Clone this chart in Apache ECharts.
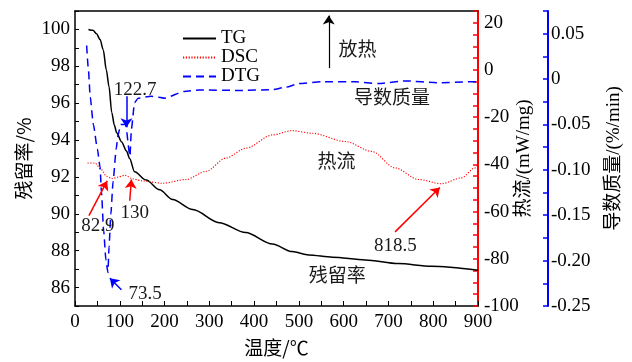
<!DOCTYPE html>
<html>
<head>
<meta charset="utf-8">
<script src="https://cdn.jsdelivr.net/npm/echarts@6/dist/echarts.min.js"></script>
<style>
  html, body { margin: 0; padding: 0; background: #fff; }
  #chart { width: 632px; height: 362px; }
</style>
</head>
<body>
<div id="chart"></div>
<script>
// Thermal analysis curves: temperature (°C) against residual mass, heat flow and mass derivative
const tgTemp = [30, 40, 48, 56, 63, 70, 76, 82, 88, 93, 104, 115, 122, 133, 159, 189, 218, 263, 322, 381, 441, 485, 522, 575, 648, 722, 796, 900];
const tgVal  = [100, 99.95, 99.77, 99.45, 98.9, 97.8, 96.9, 95.5, 94.8, 94.4, 93.9, 93.4, 93.0, 92.28, 91.83, 91.3, 90.77, 90.23, 89.52, 88.98, 88.36, 87.95, 87.77, 87.65, 87.5, 87.3, 87.15, 86.94];

const dscTemp = [28, 44, 59, 70, 82.9, 96, 111, 130, 150, 196, 248, 293, 337, 382, 441, 485, 530, 604, 663, 715, 767, 818.5, 863, 893, 900];
const dscVal  = [-39.4, -39.4, -42.2, -45, -46, -45.4, -44.6, -46.2, -47, -48, -46.4, -42.9, -37.3, -33.1, -27.5, -25.7, -26.8, -30.3, -34.5, -41.5, -46.4, -48.2, -45.7, -41.5, -40];

const dtgTemp = [26, 30, 34, 41, 50, 56, 59, 64, 69, 73.5, 76, 80, 85, 92, 96, 102, 113, 122.7, 126, 133, 141, 170, 200, 244, 278, 367, 441, 470, 500, 552, 626, 678, 737, 811, 878, 900];
const dtgVal  = [0.037, 0.01, -0.02, -0.05, -0.077, -0.097, -0.124, -0.167, -0.199, -0.213, -0.185, -0.149, -0.113, -0.077, -0.062, -0.05, -0.05, -0.085, -0.055, -0.026, -0.021, -0.019, -0.021, -0.0136, -0.012, -0.0125, -0.0117, -0.009, -0.005, -0.003, -0.003, -0.005, -0.002, -0.004, -0.003, -0.003];

// Tick labels shown on each axis
const tempTicks = [0, 100, 200, 300, 400, 500, 600, 700, 800, 900];
const tgTicks   = [86, 88, 90, 92, 94, 96, 98, 100];
const dscTicks  = [-100, -80, -60, -40, -20, 0, 20];
const dtgTicks  = [-0.25, -0.2, -0.15, -0.1, -0.05, 0, 0.05];

const SERIF = '"Liberation Serif", "Noto Sans CJK SC", serif';
const CJK = '"Noto Sans CJK SC", sans-serif';
const FS = 19;

const pairs = (xs, ys) => xs.map((x, i) => [x, ys[i]]);
const inTicks = (list, v) => list.some(t => Math.abs(t - v) < 1e-9);

const numLabel = { fontFamily: SERIF, fontSize: FS, color: '#000' };
const noteLabel = (text, coord, family) => ({
  name: text, coord: coord,
  label: { show: true, position: 'inside', formatter: '{b}', fontFamily: family, fontSize: FS, color: '#1a1a1a' }
});
const arrow = (from, to) => [{ coord: from }, { coord: to }];
const hiddenPoint = { silent: true, symbol: 'rect', symbolSize: 1, itemStyle: { color: 'rgba(0,0,0,0)' } };

const chart = echarts.init(document.getElementById('chart'));
chart.setOption({
  animation: false,
  backgroundColor: '#fff',
  grid: { left: 75, right: 152, top: 11, bottom: 52 },
  legend: {
    left: 177, top: 24, orient: 'vertical',
    itemWidth: 33, itemHeight: 2, itemGap: 0,
    itemStyle: { opacity: 0 },
    textStyle: { fontFamily: SERIF, fontSize: FS, color: '#000' },
    data: ['TG', 'DSC', 'DTG']
  },
  xAxis: [{
    type: 'value', min: 0, max: 900, interval: 100, position: 'bottom',
    name: '温度/℃', nameLocation: 'middle', nameGap: 32, nameMoveOverlap: false,
    nameTextStyle: { fontFamily: CJK, fontSize: FS, color: '#000' },
    axisLine: { onZero: false, lineStyle: { color: '#000', width: 1.5 } },
    axisTick: { inside: true, length: 5, lineStyle: { color: '#000', width: 1 } },
    minorTick: { show: true, splitNumber: 2, length: 5, lineStyle: { color: '#000', width: 1 } },
    axisLabel: Object.assign({ margin: 7, formatter: v => inTicks(tempTicks, v) ? String(v) : '' }, numLabel),
    splitLine: { show: false }
  }, {
    // plain frame line along the top
    type: 'value', min: 0, max: 900, position: 'top',
    axisLine: { onZero: false, lineStyle: { color: '#000', width: 1.5 } },
    axisTick: { show: false }, axisLabel: { show: false }, splitLine: { show: false }
  }],
  yAxis: [{
    type: 'value', min: 85, max: 101, interval: 1, position: 'left',
    name: '残留率/%', nameLocation: 'middle', nameGap: 42, nameRotate: 90, nameMoveOverlap: false,
    nameTextStyle: { fontFamily: CJK, fontSize: FS, color: '#000' },
    axisLine: { show: true, onZero: false, lineStyle: { color: '#000', width: 1.5 } },
    axisTick: { inside: true, length: 4, lineStyle: { color: '#000', width: 1 } },
    axisLabel: Object.assign({ margin: 5, formatter: v => inTicks(tgTicks, v) ? String(v) : '' }, numLabel),
    splitLine: { show: false }
  }, {
    type: 'value', min: -100, max: 25, interval: 20, position: 'right',
    name: '热流/(mW/mg)', nameLocation: 'middle', nameGap: 37, nameRotate: 90, nameMoveOverlap: false,
    nameTextStyle: { fontFamily: SERIF, fontSize: FS, color: '#000' },
    axisLine: { show: true, onZero: false, lineStyle: { color: '#ff0000', width: 2 } },
    axisTick: { inside: true, length: 5, lineStyle: { color: '#ff0000', width: 1.5 } },
    minorTick: { show: true, splitNumber: 4, length: 5, lineStyle: { color: '#ff0000', width: 1.5 } },
    axisLabel: Object.assign({ margin: 6, formatter: v => inTicks(dscTicks, v) ? String(v) : '' }, numLabel),
    splitLine: { show: false }
  }, {
    type: 'value', min: -0.25, max: 0.075, interval: 0.05, position: 'right', offset: 70,
    name: '导数质量/(%/min)', nameLocation: 'middle', nameGap: 57, nameRotate: 90, nameMoveOverlap: false,
    nameTextStyle: { fontFamily: SERIF, fontSize: FS, color: '#000' },
    axisLine: { show: true, onZero: false, lineStyle: { color: '#0000ff', width: 2 } },
    axisTick: { inside: true, length: 5, lineStyle: { color: '#0000ff', width: 1.5 } },
    minorTick: { show: true, splitNumber: 2, length: 5, lineStyle: { color: '#0000ff', width: 1.5 } },
    axisLabel: Object.assign({ margin: 3, formatter: v => inTicks(dtgTicks, v) ? (v === 0 ? '0' : v.toFixed(2)) : '' }, numLabel),
    splitLine: { show: false }
  }],
  series: [{
    name: 'TG', type: 'line', xAxisIndex: 0, yAxisIndex: 0,
    data: pairs(tgTemp, tgVal), showSymbol: false, symbol: 'none',
    smooth: 0.3, smoothMonotone: 'x',
    lineStyle: { color: '#000', width: 1.5 }, itemStyle: { color: '#000' },
    markLine: {
      silent: true, symbol: ['none', 'arrow'], symbolSize: 9, label: { show: false },
      lineStyle: { color: '#000', width: 1.2, type: 'solid' },
      data: [arrow([566.7, 97.9], [566.7, 100.75])]
    },
    markPoint: Object.assign({
      data: [
        noteLabel('放热', [631, 98.93], CJK),
        noteLabel('残留率', [585.6, 86.68], CJK)
      ]
    }, hiddenPoint)
  }, {
    name: 'DSC', type: 'line', xAxisIndex: 0, yAxisIndex: 1,
    data: pairs(dscTemp, dscVal), showSymbol: false, symbol: 'none',
    smooth: 0.3, smoothMonotone: 'x',
    lineStyle: { color: '#ff0000', width: 1.1, type: [1.2, 1.6] }, itemStyle: { color: '#ff0000' },
    markLine: {
      silent: true, symbol: ['none', 'arrow'], symbolSize: 9, label: { show: false },
      lineStyle: { color: '#ff0000', width: 1.5, type: 'solid' },
      data: [
        arrow([31.1, -61.7], [71.8, -47.0]),
        arrow([122.2, -55.4], [126, -46.4]),
        arrow([714.8, -68.6], [814.8, -49.8])
      ]
    },
    markPoint: Object.assign({
      data: [
        noteLabel('82.9', [51.1, -66.1], SERIF),
        noteLabel('130', [133.3, -60.7], SERIF),
        noteLabel('818.5', [715.6, -74.5], SERIF),
        noteLabel('热流', [584, -38.5], CJK)
      ]
    }, hiddenPoint)
  }, {
    name: 'DTG', type: 'line', xAxisIndex: 0, yAxisIndex: 2,
    data: pairs(dtgTemp, dtgVal), showSymbol: false, symbol: 'none',
    smooth: 0.2, smoothMonotone: 'x',
    lineStyle: { color: '#0000ff', width: 1.5, type: [8, 5] }, itemStyle: { color: '#0000ff' },
    markLine: {
      silent: true, symbol: ['none', 'arrow'], symbolSize: 9, label: { show: false },
      lineStyle: { color: '#0000ff', width: 1.5, type: 'solid' },
      data: [
        arrow([115, -0.019], [115, -0.053]),
        arrow([103.7, -0.232], [77.8, -0.2194])
      ]
    },
    markPoint: Object.assign({
      data: [
        noteLabel('122.7', [134.4, -0.0117], SERIF),
        noteLabel('73.5', [156.7, -0.237], SERIF),
        noteLabel('导数质量', [707.8, -0.0193], CJK)
      ]
    }, hiddenPoint)
  }]
});
</script>
</body>
</html>
